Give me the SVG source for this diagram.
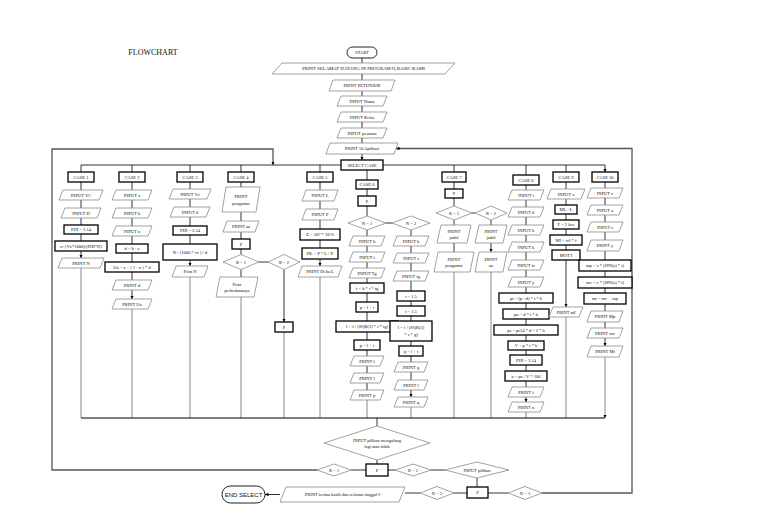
<svg xmlns="http://www.w3.org/2000/svg" width="768" height="523" viewBox="0 0 768 523">
<defs>
<marker id="a" viewBox="0 0 6 6" refX="6" refY="3" markerWidth="3.5" markerHeight="3.5" markerUnits="userSpaceOnUse" orient="auto"><path d="M0,0 L6,3 L0,6 z" fill="#000"/></marker>
</defs>
<style>
.r{fill:#fff;stroke:#000;stroke-width:1.3}
.p{fill:#fff;stroke:#8a8a8a;stroke-width:0.8}
.t{fill:#fff;stroke:#222;stroke-width:1}
.c{fill:none;stroke:#000;stroke-width:0.8}
.g{fill:none;stroke:#8a8a8a;stroke-width:1}
.l{fill:none;stroke:#555;stroke-width:1.3}
text{font-family:"Liberation Serif",serif;font-size:4.5px;text-anchor:middle;dominant-baseline:central;fill:#111}
</style>
<rect width="768" height="523" fill="#fff"/>
<text x="153" y="52" style="font-size:8px">FLOWCHART</text>

<g id="connectors">
<path class="c" marker-end="url(#a)" d="M362,58V63 M362,74V80 M362,91V96 M362,106V112 M362,122V128 M362,138V143 M362,154V160"/>
<path class="c" d="M81,165H341 M383,165H605"/>
<path class="c" marker-end="url(#a)" d="M81,165V172 M132,165V172 M190,165V172 M241,165V172 M320,165V172 M367,170V180 M454,165V172 M526,165V175 M566,165V172 M605,165V172"/>
<path class="l" marker-end="url(#a)" d="M317,470H52V149H273V165"/>
<path class="l" marker-end="url(#a)" d="M542,493H632V148.5H396"/>
<!-- col1 -->
<path class="c" marker-end="url(#a)" d="M81,182V190 M81,200V208 M81,218V225 M81,234V241 M81,251V258"/>
<!-- col2 -->
<path class="c" marker-end="url(#a)" d="M132,182V190 M132,200V208 M132,218V226 M132,236V244 M132,253V262 M132,272V280 M132,290V299"/>
<!-- col3 -->
<path class="c" marker-end="url(#a)" d="M190,182V189 M190,199V207 M190,217V226 M190,235V244 M190,260V266"/>
<!-- col4 -->
<path class="c" marker-end="url(#a)" d="M241,182V187 M241,212V221 M241,232V239 M241,249V254.5 M241,269.5V277 M259,262H268 M284,269.5V322"/>
<!-- col5 -->
<path class="c" marker-end="url(#a)" d="M320,182V190 M320,201V209 M320,220V229 M320,240V248 M320,259V266"/>
<!-- col6 -->
<path class="c" marker-end="url(#a)" d="M367,189V196 M367,206V216 M386,223H392 M367,230V236 M367,246V252 M367,262V268 M367,278V283 M367,293V302 M367,312V321 M367,332V340 M367,350V356 M367,366V373 M367,383V390 M411,230V236 M411,246V253 M411,263V271 M411,281V291 M411,301V306 M411,316V321 M411,341V346 M411,356V362 M411,372V380 M411,390V397"/>
<!-- col7 -->
<path class="c" marker-end="url(#a)" d="M454,182V189 M454,198V206 M472,213H475 M454,220V225 M454,243V252 M491,220V225 M491,243V252"/>
<!-- col8 -->
<path class="c" marker-end="url(#a)" d="M526,185V190 M526,200V207 M526,217V225 M526,235V242 M526,252V260 M526,270V277 M526,287V293 M526,303V309 M526,319V325 M526,335V341 M526,350V355 M526,365V371 M526,381V387 M526,397V402"/>
<!-- col9 -->
<path class="c" marker-end="url(#a)" d="M566,182V189 M566,199V205 M566,214V220 M566,229V235 M566,245V250 M566,260V307"/>
<!-- col10 -->
<path class="c" marker-end="url(#a)" d="M605,182V188 M605,198V205 M605,215V222 M605,232V240 M605,251V260 M605,271V277 M605,288V293 M605,304V311 M605,322V328 M605,338V346"/>
<!-- drops -->
<path class="g" marker-end="url(#a)" d="M81,268V418 M132,309V418 M190,277V418 M241,297V418 M284,332V418 M320,277V418 M367,400V418 M411,407V418 M454,272V418 M491,272V418 M526,412V418 M566,317V418 M605,357V418"/>
<path class="c" style="stroke-width:1" d="M81,418H605"/>
<!-- bottom -->
<path class="c" marker-end="url(#a)" d="M377,418V426 M377,460V464 M366,470H351 M388,470H395 M431,470H445 M477,478V487 M467,493H454 M488,493H508 M420,493H405 M280,494.5H265"/>
</g>

<g id="start"><rect class="t" x="347" y="47" width="30" height="11" rx="5.5"/><text x="362" y="52.5">START</text></g>
<g id="print-selamat"><polygon class="p" points="282,63 455,63 445,74 272,74"/><text x="363.5" y="68.5" style="font-size:4.8px">PRINT SELAMAT DATANG DI PROGRAM Q BASIC KAMI</text></g>
<g id="print-petunjuk"><polygon class="p" points="333,80 395,80 391,91 329,91"/><text x="362" y="85.5">PRINT PETUNJUK</text></g>
<g id="input-nama"><polygon class="p" points="341,96 387,96 383,106 337,106"/><text x="362" y="101">INPUT Nama</text></g>
<g id="input-kelas"><polygon class="p" points="341,112 387,112 383,122 337,122"/><text x="362" y="117">INPUT Kelas</text></g>
<g id="input-pesanan"><polygon class="p" points="341,128 387,128 383,138 337,138"/><text x="362" y="133">INPUT pesanan</text></g>
<g id="print-aplikasi"><polygon class="p" points="330,143 398,143 394,154 326,154"/><text x="362" y="148.5">PRINT 10 Aplikasi</text></g>
<g id="select-case"><rect class="r" x="341" y="160" width="42" height="10"/><text x="362" y="165">SELECT CASE</text></g>

<!-- column 1 -->
<g id="case1"><rect class="r" x="68" y="172" width="26" height="10"/><text x="81" y="177">CASE 1</text></g>
<g id="c1-vc"><polygon class="p" points="63,190 103,190 99,200 59,200"/><text x="81" y="195">INPUT VC</text></g>
<g id="c1-d"><polygon class="p" points="65,208 101,208 97,218 61,218"/><text x="81" y="213">INPUT D</text></g>
<g id="c1-phi"><rect class="r" x="64" y="225" width="34" height="9"/><text x="81" y="229.5">PHI = 3.14</text></g>
<g id="c1-n"><rect class="r" x="55" y="241" width="52" height="10"/><text x="81" y="246">n=(Vc*1000)/(PHI*D)</text></g>
<g id="c1-print"><polygon class="p" points="62,258 104,258 100,268 58,268"/><text x="81" y="263">PRINT  N</text></g>

<!-- column 2 -->
<g id="case2"><rect class="r" x="119" y="172" width="26" height="10"/><text x="132" y="177">CASE 2</text></g>
<g id="c2-a"><polygon class="p" points="116,190 152,190 148,200 112,200"/><text x="132" y="195">INPUT a</text></g>
<g id="c2-b"><polygon class="p" points="116,208 152,208 148,218 112,218"/><text x="132" y="213">INPUT b</text></g>
<g id="c2-n"><polygon class="p" points="116,226 152,226 148,236 112,236"/><text x="132" y="231">INPUT n</text></g>
<g id="c2-d"><rect class="r" x="116" y="244" width="32" height="9"/><text x="132" y="248.5">d = b - a</text></g>
<g id="c2-un"><rect class="r" x="105" y="262" width="54" height="10"/><text x="132" y="267">Un = a + ( 1 - n ) * d</text></g>
<g id="c2-pd"><polygon class="p" points="116,280 152,280 148,290 112,290"/><text x="132" y="285">PRINT  d</text></g>
<g id="c2-pun"><polygon class="p" points="116,299 152,299 148,309 112,309"/><text x="132" y="304">PRINT  Un</text></g>

<!-- column 3 -->
<g id="case3"><rect class="r" x="177" y="172" width="26" height="10"/><text x="190" y="177">CASE 3</text></g>
<g id="c3-vc"><polygon class="p" points="173,189 211,189 207,199 169,199"/><text x="190" y="194">INPUT Vc</text></g>
<g id="c3-d"><polygon class="p" points="174,207 210,207 206,217 170,217"/><text x="190" y="212">INPUT d</text></g>
<g id="c3-phi"><rect class="r" x="173" y="226" width="34" height="9"/><text x="190" y="230.5">PHI = 3.14</text></g>
<g id="c3-n"><rect class="r" x="163" y="244" width="54" height="16"/><text x="190" y="252">N= (1000 * vc ) / d</text></g>
<g id="c3-print"><polygon class="p" points="176,266 208,266 204,277 172,277"/><text x="190" y="271.5">Print N</text></g>

<!-- column 4 -->
<g id="case4"><rect class="r" x="228" y="172" width="26" height="10"/><text x="241" y="177">CASE 4</text></g>
<g id="c4-peng"><polygon class="p" points="226,187 260,187 256,212 222,212"/><text x="241" y="196">PRINT</text><text x="241" y="203">pengantar</text></g>
<g id="c4-aa"><polygon class="p" points="227,221 259,221 255,232 223,232"/><text x="241" y="226.5">PRINT aa</text></g>
<g id="c4-p"><rect class="r" x="232" y="239" width="18" height="10"/><text x="241" y="244">P</text></g>
<g id="c4-r1"><polygon class="p" points="223,262 241,254.5 259,262 241,269.5"/><text x="241" y="262">R = 1</text></g>
<g id="c4-r2"><polygon class="p" points="268,262 284,254.5 300,262 284,269.5"/><text x="284" y="262">R = 2</text></g>
<g id="c4-print"><polygon class="p" points="220,277 258,277 254,297 216,297"/><text x="237" y="284">Print</text><text x="237" y="290">perbedaannya</text></g>
<g id="c4-p2"><rect class="r" x="275" y="322" width="18" height="10"/><text x="284" y="327">P</text></g>

<!-- column 5 -->
<g id="case5"><rect class="r" x="307" y="172" width="26" height="10"/><text x="320" y="177">CASE 5</text></g>
<g id="c5-l"><polygon class="p" points="306,190 338,190 334,201 302,201"/><text x="320" y="195.5">INPUT  L</text></g>
<g id="c5-p"><polygon class="p" points="306,209 338,209 334,220 302,220"/><text x="320" y="214.5">INPUT P</text></g>
<g id="c5-e"><rect class="r" x="300" y="229" width="40" height="11"/><text x="320" y="234.5">E = 207 * 10^6</text></g>
<g id="c5-dl"><rect class="r" x="302" y="248" width="36" height="11"/><text x="320" y="253.5">DL = P * L / E</text></g>
<g id="c5-print"><polygon class="p" points="302,266 342,266 338,277 298,277"/><text x="320" y="271.5">PRINT Delta L</text></g>

<!-- column 6 -->
<g id="case6"><rect class="r" x="356" y="180" width="22" height="9"/><text x="367" y="184.5">CASE 6</text></g>
<g id="c6-p"><rect class="r" x="358" y="196" width="18" height="10"/><text x="367" y="201">P</text></g>
<g id="c6-n1"><polygon class="p" points="348,223 367,216 386,223 367,230"/><text x="367" y="223">N = 1</text></g>
<g id="c6-n2"><polygon class="p" points="392,223 411,216 430,223 411,230"/><text x="411" y="223">N = 2</text></g>
<g id="c6-b"><polygon class="p" points="353,236 385,236 381,246 349,246"/><text x="367" y="241">INPUT b</text></g>
<g id="c6-t"><polygon class="p" points="353,252 385,252 381,262 349,262"/><text x="367" y="257">INPUT t</text></g>
<g id="c6-tg"><polygon class="p" points="353,268 385,268 381,278 349,278"/><text x="367" y="273">INPUT Tg</text></g>
<g id="c6-f"><rect class="r" x="350" y="283" width="34" height="10"/><text x="367" y="288">f = b * t * tg</text></g>
<g id="c6-p1"><rect class="r" x="356" y="302" width="22" height="10"/><text x="367" y="307">p = l + t</text></g>
<g id="c6-l"><rect class="r" x="336" y="321" width="62" height="11"/><text x="367" y="326.5">l = f / (SQR(3) * t * tg)</text></g>
<g id="c6-p2"><rect class="r" x="354" y="340" width="26" height="10"/><text x="367" y="345">p = l + t</text></g>
<g id="c6-pf"><polygon class="p" points="354,356 384,356 380,366 350,366"/><text x="367" y="361">PRINT  f</text></g>
<g id="c6-pl"><polygon class="p" points="354,373 384,373 380,383 350,383"/><text x="367" y="378">PRINT  l</text></g>
<g id="c6-pp"><polygon class="p" points="354,390 384,390 380,400 350,400"/><text x="367" y="395">PRINT  p</text></g>
<g id="c6-b2"><polygon class="p" points="397,236 429,236 425,246 393,246"/><text x="411" y="241">INPUT b</text></g>
<g id="c6-s"><polygon class="p" points="397,253 429,253 425,263 393,263"/><text x="411" y="258">INPUT s</text></g>
<g id="c6-tg2"><polygon class="p" points="397,271 429,271 425,281 393,281"/><text x="411" y="276">INPUT tg</text></g>
<g id="c6-t1"><rect class="r" x="397" y="291" width="28" height="10"/><text x="411" y="296">t = 1.5</text></g>
<g id="c6-t2"><rect class="r" x="397" y="306" width="28" height="10"/><text x="411" y="311">t = 1.5</text></g>
<g id="c6-l2"><rect class="r" x="390" y="321" width="42" height="20"/><text x="411" y="327.5">l = f / (SQR(3)</text><text x="411" y="334.5">* s * g)</text></g>
<g id="c6-q"><rect class="r" x="399" y="346" width="24" height="10"/><text x="411" y="351">q = l + t</text></g>
<g id="c6-pg"><polygon class="p" points="398,362 428,362 424,372 394,372"/><text x="411" y="367">PRINT  g</text></g>
<g id="c6-pl2"><polygon class="p" points="398,380 428,380 424,390 394,390"/><text x="411" y="385">PRINT  l</text></g>
<g id="c6-pq"><polygon class="p" points="398,397 428,397 424,407 394,407"/><text x="411" y="402">PRINT  q</text></g>

<!-- column 7 -->
<g id="case7"><rect class="r" x="442" y="172" width="24" height="10"/><text x="454" y="177">CASE 7</text></g>
<g id="c7-p"><rect class="r" x="445" y="189" width="18" height="9"/><text x="454" y="193.5">P</text></g>
<g id="c7-r1"><polygon class="p" points="436,213 454,206 472,213 454,220"/><text x="454" y="213">R = 1</text></g>
<g id="c7-r2"><polygon class="p" points="475,213 491,206 507,213 491,220"/><text x="491" y="213">R = 2</text></g>
<g id="c7-j1"><polygon class="p" points="441,225 471,225 467,243 437,243"/><text x="454" y="231">PRINT</text><text x="454" y="237.5">jadul</text></g>
<g id="c7-peng"><polygon class="p" points="438,252 474,252 470,272 434,272"/><text x="454" y="259">PRINT</text><text x="454" y="265.5">pengantar</text></g>
<g id="c7-j2"><polygon class="p" points="479,225 507,225 503,243 475,243"/><text x="491" y="231">PRINT</text><text x="491" y="237.5">jadul</text></g>
<g id="c7-aa"><polygon class="p" points="479,252 507,252 503,272 475,272"/><text x="491" y="259">PRINT</text><text x="491" y="265.5">aa</text></g>

<!-- column 8 -->
<g id="case8"><rect class="r" x="513" y="175" width="26" height="10"/><text x="526" y="180">CASE 8</text></g>
<g id="c8-t"><polygon class="p" points="512,190 544,190 540,200 508,200"/><text x="526" y="195">INPUT t</text></g>
<g id="c8-d"><polygon class="p" points="512,207 544,207 540,217 508,217"/><text x="526" y="212">INPUT d</text></g>
<g id="c8-b"><polygon class="p" points="512,225 544,225 540,235 508,235"/><text x="526" y="230">INPUT b</text></g>
<g id="c8-h"><polygon class="p" points="512,242 544,242 540,252 508,252"/><text x="526" y="247">INPUT h</text></g>
<g id="c8-fs"><polygon class="p" points="512,260 544,260 540,270 508,270"/><text x="526" y="265">INPUT fs</text></g>
<g id="c8-y"><polygon class="p" points="512,277 544,277 540,287 508,287"/><text x="526" y="282">INPUT y</text></g>
<g id="c8-pt"><rect class="r" x="499" y="293" width="54" height="10"/><text x="526" y="298">pt = (p - d) * t * h</text></g>
<g id="c8-pn"><rect class="r" x="503" y="309" width="46" height="10"/><text x="526" y="314">pn = d * t * h</text></g>
<g id="c8-ps"><rect class="r" x="494" y="325" width="64" height="10"/><text x="526" y="330">ps = pt/(4 * d ^ 2 * h</text></g>
<g id="c8-v"><rect class="r" x="508" y="341" width="36" height="9"/><text x="526" y="345.5">V = p * t * h</text></g>
<g id="c8-phi"><rect class="r" x="510" y="355" width="32" height="10"/><text x="526" y="360">PHI = 3.14</text></g>
<g id="c8-n"><rect class="r" x="505" y="371" width="42" height="10"/><text x="526" y="376">n = ps / V * 100</text></g>
<g id="c8-pt2"><polygon class="p" points="512,387 544,387 540,397 508,397"/><text x="526" y="392">PRINT  t</text></g>
<g id="c8-pn2"><polygon class="p" points="512,402 544,402 540,412 508,412"/><text x="526" y="407">PRINT  n</text></g>

<!-- column 9 -->
<g id="case9"><rect class="r" x="553" y="172" width="26" height="10"/><text x="566" y="177">CASE 9</text></g>
<g id="c9-a"><polygon class="p" points="551,189 585,189 581,199 547,199"/><text x="566" y="194">INPUT  a</text></g>
<g id="c9-ml"><rect class="r" x="555" y="205" width="22" height="9"/><text x="566" y="209.5">ML =L</text></g>
<g id="c9-f"><rect class="r" x="553" y="220" width="26" height="9"/><text x="566" y="224.5">F = 2 kcc</text></g>
<g id="c9-mi"><rect class="r" x="550" y="235" width="32" height="10"/><text x="566" y="240">MI = rcl * f</text></g>
<g id="c9-mot"><rect class="r" x="552" y="250" width="28" height="10"/><text x="566" y="255">MOT I</text></g>
<g id="c9-print"><polygon class="p" points="553,307 583,307 579,317 549,317"/><text x="566" y="312">PRINT mI</text></g>

<!-- column 10 -->
<g id="case10"><rect class="r" x="592" y="172" width="26" height="10"/><text x="605" y="177">CASE 10</text></g>
<g id="c10-c"><polygon class="p" points="591,188 623,188 619,198 587,198"/><text x="605" y="193">INPUT c</text></g>
<g id="c10-a"><polygon class="p" points="591,205 623,205 619,215 587,215"/><text x="605" y="210">INPUT a</text></g>
<g id="c10-s"><polygon class="p" points="591,222 623,222 619,232 587,232"/><text x="605" y="227">INPUT s</text></g>
<g id="c10-y"><polygon class="p" points="591,240 623,240 619,251 587,251"/><text x="605" y="245.5">PRINT y</text></g>
<g id="c10-mp"><rect class="r" x="579" y="260" width="52" height="11"/><text x="605" y="265.5">mp = s * (SIN(a) * t)</text></g>
<g id="c10-mv"><rect class="r" x="578" y="277" width="54" height="11"/><text x="605" y="282.5">mv = c * (SIN(a) * t)</text></g>
<g id="c10-mt"><rect class="r" x="584" y="293" width="42" height="11"/><text x="605" y="298.5">mt = mv + mp</text></g>
<g id="c10-p1"><polygon class="p" points="591,311 623,311 619,322 587,322"/><text x="605" y="316.5">PRINT Mp</text></g>
<g id="c10-p2"><polygon class="p" points="591,328 623,328 619,338 587,338"/><text x="605" y="333">PRINT mv</text></g>
<g id="c10-p3"><polygon class="p" points="591,346 623,346 619,357 587,357"/><text x="605" y="351.5">PRINT Mt</text></g>

<!-- bottom -->
<g id="input-ulang"><polygon class="p" points="324,443 377,426 430,443 377,460"/><text x="377" y="440">INPUT pilihan mengulang</text><text x="377" y="446">lagi atau tidak</text></g>
<g id="p-ulang"><rect class="r" x="366" y="464" width="22" height="12"/><text x="377" y="470">P</text></g>
<g id="r1-bottom"><polygon class="p" points="317,470 334,464 351,470 334,476"/><text x="334" y="470">R = 1</text></g>
<g id="r2-bottom"><polygon class="p" points="395,470 413,464 431,470 413,476"/><text x="413" y="470">R = 2</text></g>
<g id="input-pilihan"><polygon class="p" points="445,470 477,462 509,470 477,478"/><text x="477" y="470">INPUT pilihan</text></g>
<g id="p-pilihan"><rect class="r" x="467" y="487" width="21" height="11"/><text x="477.5" y="492.5">P</text></g>
<g id="n2"><polygon class="p" points="420,493 437,486.5 454,493 437,499.5"/><text x="437" y="493">N = 2</text></g>
<g id="n1"><polygon class="p" points="508,493 525,486.5 542,493 525,499.5"/><text x="525" y="493">N = 1</text></g>
<g id="print-terima"><polygon class="p" points="286,487 405,487 399,502 280,502"/><text x="342.5" y="494.5">PRINT terima kasih dan selamat tinggal #</text></g>
<g id="end-select"><rect class="t" x="222" y="486" width="43" height="17" rx="8.5"/><text x="243.5" y="494.5" style="font-family:'Liberation Sans',sans-serif;font-size:6px">END SELECT</text></g>
</svg>
